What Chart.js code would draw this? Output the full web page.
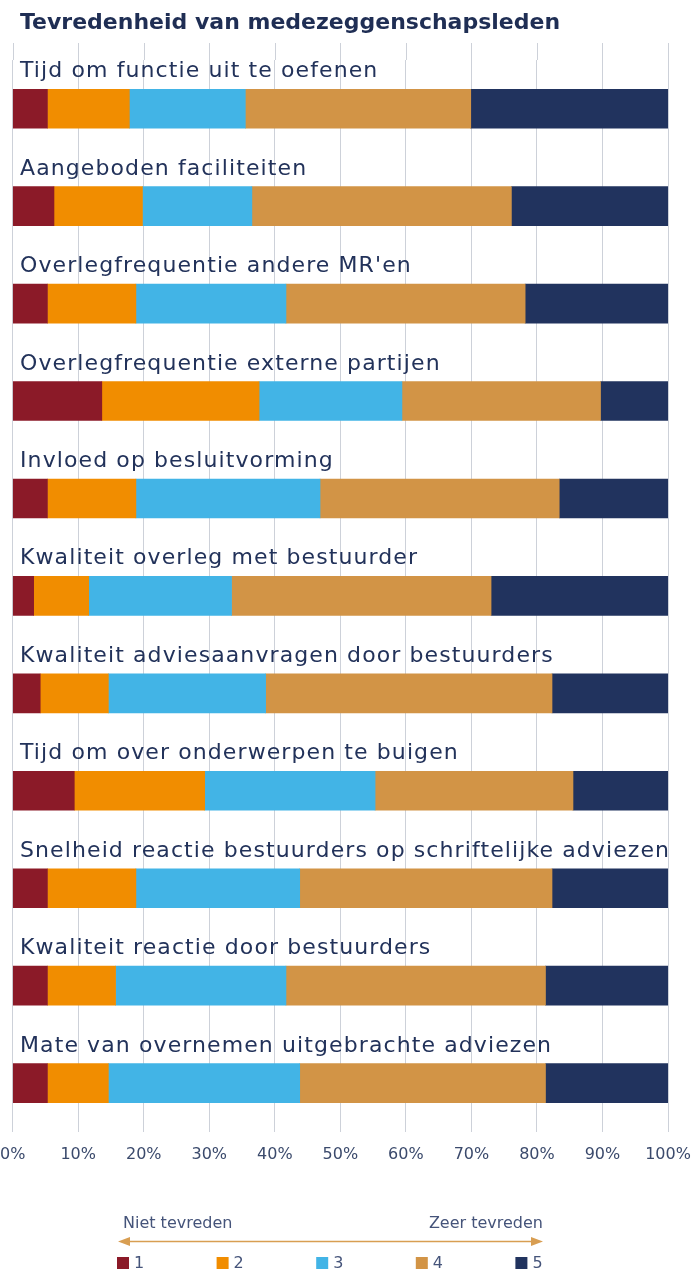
<!DOCTYPE html>
<html lang="nl">
<head>
<meta charset="utf-8">
<title>Tevredenheid van medezeggenschapsleden</title>
<script src="https://cdn.jsdelivr.net/npm/chart.js@4.4.1/dist/chart.umd.min.js"></script>
<style>
  html, body { margin: 0; padding: 0; background: #fff; }
  #wrap { position: relative; width: 694px; height: 1270px; overflow: hidden; }
  #chart { position: absolute; left: 0; top: 0; }
  #title {
    position: absolute; left: 20px; top: 6px;
    font: bold 22px "DejaVu Sans"; line-height: 32px; color: #1f2e54;
  }
</style>
</head>
<body>
<div id="wrap">
  <canvas id="chart" width="694" height="1270"></canvas>
  <div id="title">Tevredenheid van medezeggenschapsleden</div>
</div>
<script>
// --- data (percent of respondents per score) ---
const categories = [
  'Tijd om functie uit te oefenen',
  'Aangeboden faciliteiten',
  "Overlegfrequentie andere MR'en",
  'Overlegfrequentie externe partijen',
  'Invloed op besluitvorming',
  'Kwaliteit overleg met bestuurder',
  'Kwaliteit adviesaanvragen door bestuurders',
  'Tijd om over onderwerpen te buigen',
  'Snelheid reactie bestuurders op schriftelijke adviezen',
  'Kwaliteit reactie door bestuurders',
  'Mate van overnemen uitgebrachte adviezen'
];
const scoreNames = ['1', '2', '3', '4', '5'];
const score1 = [5.3, 6.3, 5.3, 13.6, 5.3, 3.2, 4.2, 9.4, 5.3, 5.3, 5.3];
const score2 = [12.5, 13.5, 13.5, 24.0, 13.5, 8.4, 10.4, 19.9, 13.5, 10.4, 9.3];
const score3 = [17.7, 16.7, 22.9, 21.8, 28.1, 21.8, 24.0, 26.0, 25.0, 26.0, 29.2];
const score4 = [34.4, 39.6, 36.5, 30.3, 36.5, 39.6, 43.7, 30.2, 38.5, 39.6, 37.5];
const score5 = [30.1, 23.9, 21.8, 10.3, 16.6, 27.0, 17.7, 14.5, 17.7, 18.7, 18.7];
const scaleLeft = 'Niet tevreden';
const scaleRight = 'Zeer tevreden';

const colors = ['#8b1a28', '#f18d00', '#42b4e6', '#d29446', '#21335e'];
const gridColor = '#cdd1d9';
const textColor = '#22325a';

const series = [score1, score2, score3, score4, score5];
const datasets = series.map((vals, i) => ({
  label: scoreNames[i],
  data: vals,
  backgroundColor: colors[i],
  borderWidth: 0,
  barThickness: 39
}));

// grid lines continue a bit above the first category label
const gridTop = {
  id: 'gridTop',
  beforeDatasetsDraw(chart) {
    const {ctx, chartArea} = chart;
    const xs = chart.scales.x;
    ctx.save();
    ctx.strokeStyle = gridColor;
    ctx.lineWidth = 1;
    xs.ticks.forEach(t => {
      const x = Math.round(xs.getPixelForValue(t.value)) + 0.5;
      ctx.beginPath();
      ctx.moveTo(x, 43);
      ctx.lineTo(x, chartArea.top);
      ctx.stroke();
    });
    ctx.restore();
  }
};

// category names sit above their bars
const barLabels = {
  id: 'barLabels',
  afterDatasetsDraw(chart) {
    const {ctx} = chart;
    const meta = chart.getDatasetMeta(0);
    ctx.save();
    ctx.font = '22px "DejaVu Sans"';
    ctx.letterSpacing = '1.1px';
    ctx.fillStyle = textColor;
    ctx.textAlign = 'left';
    ctx.textBaseline = 'alphabetic';
    meta.data.forEach((bar, i) => {
      const top = bar.y - bar.height / 2;
      ctx.fillText(chart.data.labels[i], 20, top - 12);
    });
    ctx.restore();
  }
};

// arrow + score legend under the axis
const scaleLegend = {
  id: 'scaleLegend',
  afterDraw(chart) {
    const {ctx} = chart;
    const x0 = 118, x1 = 543, ay = 1241.5;
    ctx.save();
    ctx.strokeStyle = '#d89e52';
    ctx.fillStyle = '#d89e52';
    ctx.lineWidth = 1.5;
    ctx.beginPath();
    ctx.moveTo(x0 + 6, ay);
    ctx.lineTo(x1 - 6, ay);
    ctx.stroke();
    ctx.beginPath();
    ctx.moveTo(x0, ay); ctx.lineTo(x0 + 12, ay - 4.5); ctx.lineTo(x0 + 12, ay + 4.5);
    ctx.closePath(); ctx.fill();
    ctx.beginPath();
    ctx.moveTo(x1, ay); ctx.lineTo(x1 - 12, ay - 4.5); ctx.lineTo(x1 - 12, ay + 4.5);
    ctx.closePath(); ctx.fill();

    ctx.font = '16px "DejaVu Sans"';
    ctx.fillStyle = '#45547a';
    ctx.textBaseline = 'alphabetic';
    ctx.textAlign = 'left';
    ctx.fillText(scaleLeft, 123, 1228);
    ctx.textAlign = 'right';
    ctx.fillText(scaleRight, 543, 1228);

    ctx.textAlign = 'left';
    ctx.textBaseline = 'middle';
    chart.data.datasets.forEach((ds, i) => {
      const x = 117 + i * 99.6;
      ctx.fillStyle = ds.backgroundColor;
      ctx.fillRect(x, 1257, 12, 12);
      ctx.fillStyle = '#45547a';
      ctx.fillText(ds.label, x + 17, 1264);
    });
    ctx.restore();
  }
};

new Chart(document.getElementById('chart'), {
  type: 'bar',
  data: { labels: categories, datasets },
  options: {
    indexAxis: 'y',
    responsive: false,
    animation: false,
    layout: { padding: { top: 60, right: 26, bottom: 106, left: 0 } },
    scales: {
      x: {
        stacked: true,
        min: 0,
        max: 100,
        border: { display: false },
        grid: { color: gridColor, lineWidth: 1, drawTicks: true, tickLength: 13, tickColor: 'rgba(0,0,0,0)' },
        ticks: {
          stepSize: 10,
          padding: 0,
          maxRotation: 0,
          autoSkip: false,
          color: '#3b4a6c',
          font: { family: 'DejaVu Sans', size: 16 },
          callback: v => v + '%'
        }
      },
      y: { stacked: true, display: false }
    },
    plugins: {
      legend: { display: false },
      tooltip: { enabled: false },
      title: { display: false }
    }
  },
  plugins: [gridTop, barLabels, scaleLegend]
});
</script>
</body>
</html>
